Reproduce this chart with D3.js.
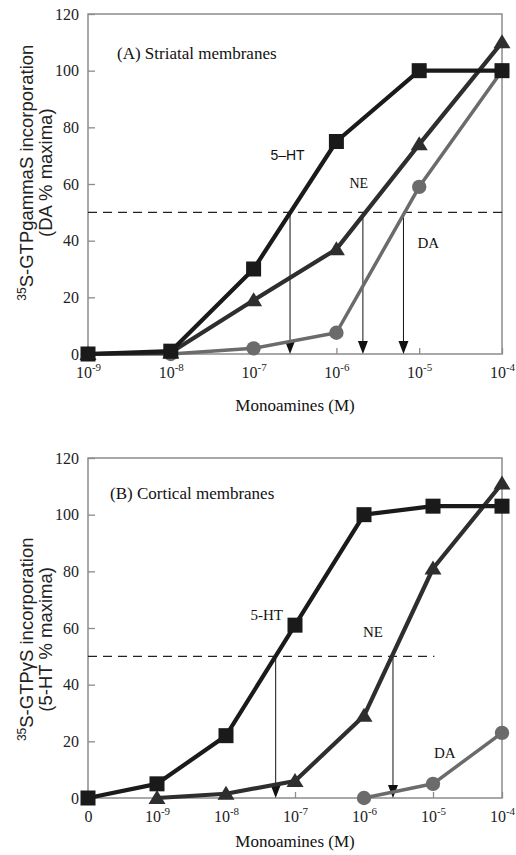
<!DOCTYPE html>
<html>
<head>
<meta charset="utf-8">
<script src="https://cdn.jsdelivr.net/npm/d3@7/dist/d3.min.js"></script>
<style>
body { margin: 0; background: #fff; }
svg { display: block; }
</style>
</head>
<body>
<div id="chart"></div>
<script>

// (A) striatal membranes, x is log10 of the molar concentration
var expA = [-9, -8, -7, -6, -5, -4]
var htA = [0, 1, 30, 75, 100, 100]
var neA = [0, 0.5, 19, 37, 74, 110]
var daA = [0, 0, 2, 7.5, 59, 100]
var ec50A = [-6.56, -5.68, -5.19]

// (B) cortical membranes, first column (-10) is the "0" (no drug) point
var expB = [-10, -9, -8, -7, -6, -5, -4]
var htB = [0, 5, 22, 61, 100, 103, 103]
var neB = [null, 0, 1.5, 6, 29, 81, 111]
var daB = [null, null, null, null, 0, 5, 23]
var ec50B = [-7.28, -5.58]

var yTicks = [0, 20, 40, 60, 80, 100, 120]

var W = 516, H = 855
var xLeft = 88, xRight = 502
var frameColor = "#8c8c8c"
var serif = "'Liberation Serif', 'Times New Roman', serif"
var sans = "'Liberation Sans', Arial, sans-serif"

var svg = d3.select("#chart").append("svg")
	.attr("width", W)
	.attr("height", H)

function drawPanel(p) {
	var x = d3.scaleLinear().domain([p.exp[0], -4]).range([xLeft, xRight])
	var y = d3.scaleLinear().domain([0, 120]).range([p.y0, p.y0 - 340])
	var g = svg.append("g")

	// y axis with inward ticks
	var yAxis = g.append("g")
		.attr("transform", "translate(" + xLeft + ",0)")
		.call(d3.axisLeft(y).tickValues(yTicks).tickSizeInner(-7).tickSizeOuter(0).tickPadding(9))
	yAxis.attr("font-family", null).attr("font-size", null)
	yAxis.select(".domain").remove()
	yAxis.selectAll("line").attr("stroke", frameColor).attr("stroke-width", 1.3)
	yAxis.selectAll("text")
		.style("font-family", serif)
		.style("font-size", "16px")
		.attr("fill", "#222")

	// x axis, labels written as 10 with superscript exponent
	var xAxis = g.append("g")
		.attr("transform", "translate(0," + y(0) + ")")
		.call(d3.axisBottom(x).tickValues(p.exp).tickSizeInner(-6).tickSizeOuter(0).tickFormat(""))
	xAxis.attr("font-family", null).attr("font-size", null)
	xAxis.select(".domain").remove()
	xAxis.selectAll("line").attr("stroke", frameColor).attr("stroke-width", 1.3)
	xAxis.selectAll(".tick").each(function (d) {
		var t = d3.select(this).append("text")
			.attr("y", 24)
			.attr("text-anchor", "middle")
			.style("font-family", serif)
			.style("font-size", "16px")
			.attr("fill", "#222")
		if (d < -9) {
			t.text("0")
		} else {
			t.append("tspan").text("10")
			t.append("tspan").style("font-size", "11px").attr("dy", -7).text(String(d))
		}
	})

	// frame
	g.append("rect")
		.attr("x", xLeft)
		.attr("y", y(120))
		.attr("width", xRight - xLeft)
		.attr("height", y(0) - y(120))
		.attr("fill", "none")
		.attr("stroke", frameColor)
		.attr("stroke-width", 1.5)

	// 50% line
	g.append("line")
		.attr("x1", x(p.exp[0]))
		.attr("x2", x(p.dashEnd))
		.attr("y1", y(50))
		.attr("y2", y(50))
		.attr("stroke", "#222")
		.attr("stroke-width", 1.3)
		.attr("stroke-dasharray", "9,6")

	// arrows down to the EC50
	p.ec50.forEach(function (e) {
		g.append("line")
			.attr("x1", x(e)).attr("x2", x(e))
			.attr("y1", y(50)).attr("y2", y(0) - 10)
			.attr("stroke", "#111")
			.attr("stroke-width", 1)
		g.append("path")
			.attr("d", "M" + (x(e) - 5) + "," + (y(0) - 13) + "L" + (x(e) + 5) + "," + (y(0) - 13) + "L" + x(e) + "," + y(0) + "Z")
			.attr("fill", "#111")
	})

	var series = [
		{ vals: p.da, color: "#6b6b6b", width: 3.5, shape: "circle" },
		{ vals: p.ne, color: "#2e2e2e", width: 4.2, shape: "triangle" },
		{ vals: p.ht, color: "#1a1a1a", width: 4.2, shape: "square" }
	]

	series.forEach(function (s) {
		var pts = p.exp.map(function (e, i) { return { e: e, v: s.vals[i] } })
			.filter(function (d) { return d.v != null })
		var line = d3.line()
			.x(function (d) { return x(d.e) })
			.y(function (d) { return y(d.v) })
		g.append("path")
			.datum(pts)
			.attr("d", line)
			.attr("fill", "none")
			.attr("stroke", s.color)
			.attr("stroke-width", s.width)
			.attr("stroke-linejoin", "round")

		var m = g.selectAll(null).data(pts).enter()
		if (s.shape == "circle") {
			m.append("circle")
				.attr("cx", function (d) { return x(d.e) })
				.attr("cy", function (d) { return y(d.v) })
				.attr("r", 7.2)
				.attr("fill", s.color)
		} else if (s.shape == "square") {
			m.append("rect")
				.attr("x", function (d) { return x(d.e) - 7.5 })
				.attr("y", function (d) { return y(d.v) - 7.5 })
				.attr("width", 15)
				.attr("height", 15)
				.attr("fill", s.color)
		} else {
			m.append("path")
				.attr("d", function (d) {
					var cx = x(d.e), cy = y(d.v)
					return "M" + cx + "," + (cy - 8) + "L" + (cx + 8.5) + "," + (cy + 6) + "L" + (cx - 8.5) + "," + (cy + 6) + "Z"
				})
				.attr("fill", s.color)
		}
	})

	// panel title and compound labels
	g.append("text")
		.attr("x", p.titleX)
		.attr("y", y(p.titleY))
		.style("font-family", serif)
		.style("font-size", "17px")
		.attr("fill", "#111")
		.text(p.title)

	p.labels.forEach(function (l) {
		g.append("text")
			.attr("x", x(l.e))
			.attr("y", y(l.v))
			.attr("text-anchor", "middle")
			.style("font-family", l.sans ? sans : serif)
			.style("font-size", l.size + "px")
			.attr("fill", "#111")
			.text(l.text)
	})

	// y axis title, two rotated lines
	var cy = y(p.yTitleAt)
	var t1 = g.append("text")
		.attr("transform", "translate(33," + cy + ") rotate(-90)")
		.attr("text-anchor", "middle")
		.style("font-family", sans)
		.style("font-size", "18.5px")
		.attr("fill", "#222")
	t1.append("tspan").style("font-size", "12px").attr("dy", -7).text("35")
	t1.append("tspan").attr("dy", 7).text(p.yTitle)
	g.append("text")
		.attr("transform", "translate(52," + cy + ") rotate(-90)")
		.attr("text-anchor", "middle")
		.style("font-family", sans)
		.style("font-size", "18.5px")
		.attr("fill", "#222")
		.text(p.ySub)

	g.append("text")
		.attr("x", (xLeft + xRight) / 2)
		.attr("y", y(0) + p.xTitleGap)
		.attr("text-anchor", "middle")
		.style("font-family", serif)
		.style("font-size", "17px")
		.attr("fill", "#111")
		.text("Monoamines (M)")
}

drawPanel({
	exp: expA, ht: htA, ne: neA, da: daA, ec50: ec50A,
	y0: 354, dashEnd: -4, xTitleGap: 57, yTitleAt: 64,
	title: "(A) Striatal membranes", titleX: 117, titleY: 104,
	yTitle: "S-GTPgammaS incorporation", ySub: "(DA % maxima)",
	labels: [
		{ text: "5\u2013HT", e: -6.59, v: 68.5, size: 14, sans: true },
		{ text: "NE", e: -5.73, v: 58.5, size: 14 },
		{ text: "DA", e: -4.89, v: 37.5, size: 15 }
	]
})

drawPanel({
	exp: expB, ht: htB, ne: neB, da: daB, ec50: ec50B,
	y0: 798, dashEnd: -4.98, xTitleGap: 49, yTitleAt: 56,
	title: "(B) Cortical membranes", titleX: 110, titleY: 105.5,
	yTitle: "S-GTP\u03b3S incorporation", ySub: "(5-HT % maxima)",
	labels: [
		{ text: "5-HT", e: -7.41, v: 63, size: 15 },
		{ text: "NE", e: -5.87, v: 57, size: 15 },
		{ text: "DA", e: -4.83, v: 14, size: 15 }
	]
})

</script>
</body>
</html>
